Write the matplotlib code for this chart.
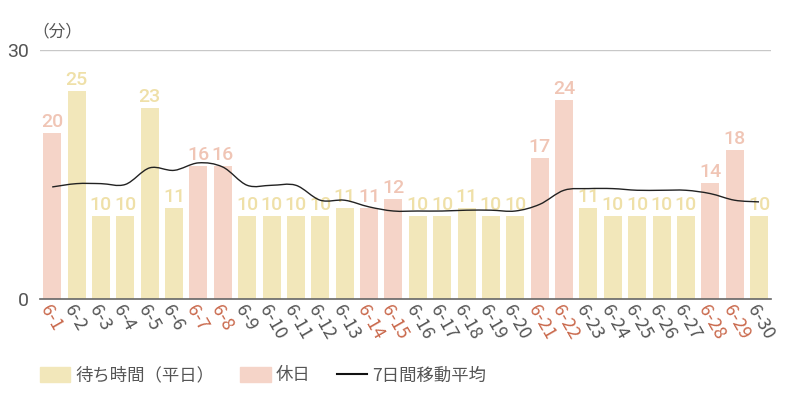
"""Waiting time per day in June with a 7-day moving average."""

import matplotlib

matplotlib.use("Agg")
import matplotlib.pyplot as plt
from matplotlib.patches import Patch, PathPatch
from matplotlib.lines import Line2D
from matplotlib.path import Path

days = [f"6-{d}" for d in range(1, 31)]
wait_minutes = [20, 25, 10, 10, 23, 11, 16, 16, 10, 10,
                10, 10, 11, 11, 12, 10, 10, 11, 10, 10,
                17, 24, 11, 10, 10, 10, 10, 14, 18, 10]
holidays = [1, 7, 8, 14, 15, 21, 22, 28, 29]
moving_avg = [13.5, 13.9, 13.9, 13.8, 15.8, 15.5, 16.4, 15.9, 13.7, 13.7,
              13.7, 11.9, 11.9, 11.1, 10.6, 10.6, 10.6, 10.7, 10.7, 10.6,
              11.4, 13.1, 13.3, 13.3, 13.1, 13.1, 13.1, 12.7, 11.9, 11.7]

WEEKDAY = "#F2E7BA"
HOLIDAY = "#F5D4C8"
WEEKDAY_TXT = "#EFE0A8"
HOLIDAY_TXT = "#F0C5B5"
HOLIDAY_TICK = "#C9684B"
GRAY = "#555555"

plt.rcParams["font.family"] = ["Roboto", "Noto Sans CJK JP", "DejaVu Sans"]


def smooth_path(xs, ys):
    """Catmull-Rom curve through the points as cubic Bezier segments."""
    verts = [(xs[0], ys[0])]
    codes = [Path.MOVETO]
    n = len(xs)
    for i in range(n - 1):
        x0, y0 = (xs[i - 1], ys[i - 1]) if i > 0 else (xs[i], ys[i])
        x1, y1 = xs[i], ys[i]
        x2, y2 = xs[i + 1], ys[i + 1]
        x3, y3 = (xs[i + 2], ys[i + 2]) if i + 2 < n else (x2, y2)
        c1 = (x1 + (x2 - x0) / 6, y1 + (y2 - y0) / 6)
        c2 = (x2 - (x3 - x1) / 6, y2 - (y3 - y1) / 6)
        verts += [c1, c2, (x2, y2)]
        codes += [Path.CURVE4] * 3
    return Path(verts, codes)


fig = plt.figure(figsize=(8, 4), dpi=100)
ax = fig.add_axes([0.05, 0.2525, 0.914, 0.6225])

xs = list(range(len(days)))
is_hol = [(i + 1) in holidays for i in xs]
colors = [HOLIDAY if h else WEEKDAY for h in is_hol]
ax.bar(xs, wait_minutes, width=0.74, color=colors, zorder=2)

for x, v, h in zip(xs, wait_minutes, is_hol):
    ax.text(x, v + 0.25, str(v), ha="center", va="bottom", fontsize=14,
            color=HOLIDAY_TXT if h else WEEKDAY_TXT,
            family=["Roboto"], fontweight="medium", zorder=3)

ax.add_patch(PathPatch(smooth_path(xs, moving_avg), facecolor="none",
                       edgecolor="#222222", linewidth=1.0, zorder=4))

ax.set_xlim(-0.5, 29.5)
ax.set_ylim(0, 30)
ax.axhline(30, color="#C8C8C8", linewidth=1.0, zorder=1)
for s in ["top", "right", "left"]:
    ax.spines[s].set_visible(False)
ax.spines["bottom"].set_color("#666666")
ax.spines["bottom"].set_linewidth(1.2)

ax.set_yticks([0, 30])
ax.set_yticklabels(["0", "30"], fontsize=14, color=GRAY)
ax.tick_params(axis="y", length=0, pad=8)
ax.set_xticks(xs)
ax.set_xticklabels(days, rotation=-60, ha="left", va="top",
                   rotation_mode="anchor", fontsize=13,
                   family=["Noto Sans CJK JP"])
ax.tick_params(axis="x", length=0, pad=2)
for lab, h in zip(ax.get_xticklabels(), is_hol):
    lab.set_color(HOLIDAY_TICK if h else GRAY)

fig.text(0.040, 0.9, "（分）", fontsize=12, color=GRAY, ha="left",
         va="bottom", family=["Noto Sans CJK JP"])

handles = [Patch(color=WEEKDAY), Patch(color=HOLIDAY),
           Line2D([0], [0], color="#111111", linewidth=1.5)]
labels = ["待ち時間（平日）", "休日", "7日間移動平均"]
fig.legend(handles, labels, loc="lower left", bbox_to_anchor=(0.03, 0.0),
           ncol=3, frameon=False, handlelength=1.75,
           handleheight=0.95, handletextpad=0.3, columnspacing=1.5,
           labelcolor=GRAY, prop={"family": ["Noto Sans CJK JP"], "size": 12.5})

fig.savefig("out.png", dpi=100)
